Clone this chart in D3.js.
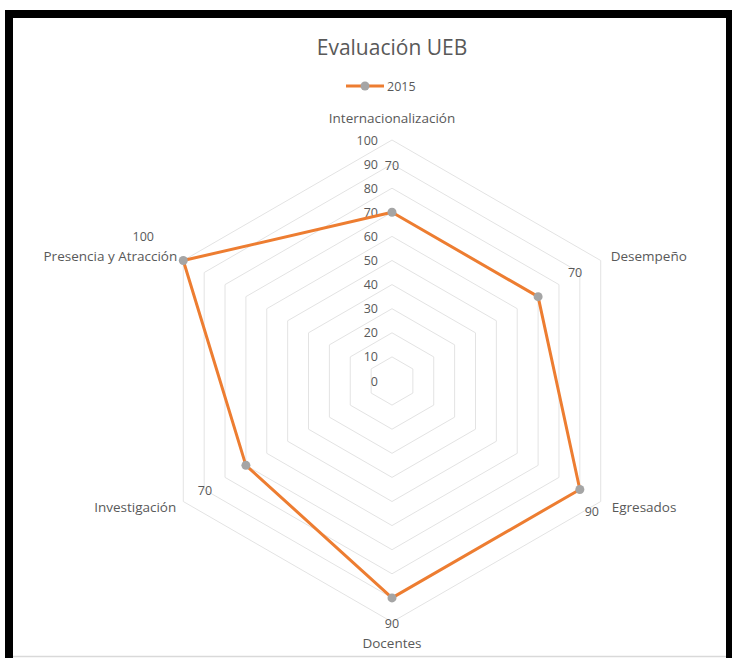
<!DOCTYPE html>
<html><head><meta charset="utf-8">
<script src="https://cdn.jsdelivr.net/npm/d3@7"></script>
<style>html,body{margin:0;padding:0;background:#fff;}svg{display:block;}</style>
</head><body>
<svg id="c" width="732" height="658"></svg>
<script>
const title = "Evaluación UEB";
const seriesName = "2015";
const categories = ["Internacionalización","Desempeño","Egresados","Docentes","Investigación","Presencia y Atracción"];
const values2015 = [70, 70, 90, 90, 70, 100];
const tickValues = [0,10,20,30,40,50,60,70,80,90,100];

const svg = d3.select("#c");
const font = "'Open Sans', 'Liberation Sans', sans-serif";
const textColor = "#595959";

// frame
svg.append("rect").attr("x",5).attr("y",10).attr("width",727).attr("height",648).attr("fill","#000");
svg.append("rect").attr("x",13).attr("y",18).attr("width",713).attr("height",640).attr("fill","#fff");
svg.append("line").attr("x1",13).attr("x2",726).attr("y1",656.5).attr("y2",656.5).attr("stroke","#d9d9d9").attr("stroke-width",1.5);

const cx = 392, cy = 381;
const r = d3.scaleLinear().domain([0,100]).range([0,241]);
const n = categories.length;
const ang = i => -Math.PI/2 + i*2*Math.PI/n;
const pt = (i,v) => [cx + r(v)*Math.cos(ang(i)), cy + r(v)*Math.sin(ang(i))];

// grid
const g = svg.append("g");
tickValues.filter(t=>t>0).forEach(t=>{
  g.append("polygon")
   .attr("points", d3.range(n).map(i=>pt(i,t).join(",")).join(" "))
   .attr("fill","none").attr("stroke","#e3e3e3").attr("stroke-width",1);
});

// tick labels
tickValues.forEach(t=>{
  svg.append("text").attr("x",cx-14).attr("y",cy - r(t)+4.5)
    .attr("text-anchor","end").attr("font-family",font).attr("font-size",12.5)
    .attr("fill",textColor).text(t);
});

// series line
const line = d3.line().curve(d3.curveLinearClosed);
svg.append("path").attr("d", line(values2015.map((v,i)=>pt(i,v))))
  .attr("fill","none").attr("stroke","#ED7D31").attr("stroke-width",3).attr("stroke-linejoin","round");
values2015.forEach((v,i)=>{
  const [x,y] = pt(i,v);
  svg.append("circle").attr("cx",x).attr("cy",y).attr("r",4.5).attr("fill","#A5A5A5");
});

// category labels
const catAnchor = ["middle","start","start","middle","end","end"];
const catOffset = [[0,-17],[10,0],[11,10],[0,26],[-7,10],[-6,0]];
categories.forEach((c,i)=>{
  const [x,y] = pt(i, 100);
  svg.append("text").attr("x",x+catOffset[i][0]).attr("y",y+catOffset[i][1])
    .attr("text-anchor",catAnchor[i]).attr("font-family",font).attr("font-size",13.5)
    .attr("fill",textColor).text(c);
});

// data labels
const lblOffset = [[0,-47],[37,-24],[12,22],[0,26],[-41,25],[-40,-24]];
values2015.forEach((v,i)=>{
  const [x,y] = pt(i,v);
  svg.append("text").attr("x",x+lblOffset[i][0]).attr("y",y+lblOffset[i][1]+4.5)
    .attr("text-anchor","middle").attr("font-family",font).attr("font-size",12.5)
    .attr("fill",textColor).text(v);
});

// title
svg.append("text").attr("x",392).attr("y",55).attr("text-anchor","middle")
  .attr("font-family",font).attr("font-size",21).attr("fill",textColor).text(title);

// legend
svg.append("line").attr("x1",346).attr("x2",384).attr("y1",86).attr("y2",86)
  .attr("stroke","#ED7D31").attr("stroke-width",3);
svg.append("circle").attr("cx",365).attr("cy",86).attr("r",4.5).attr("fill","#A5A5A5");
svg.append("text").attr("x",387).attr("y",90.5).attr("font-family",font).attr("font-size",12.5)
  .attr("fill",textColor).text(seriesName);
</script>
</body></html>
